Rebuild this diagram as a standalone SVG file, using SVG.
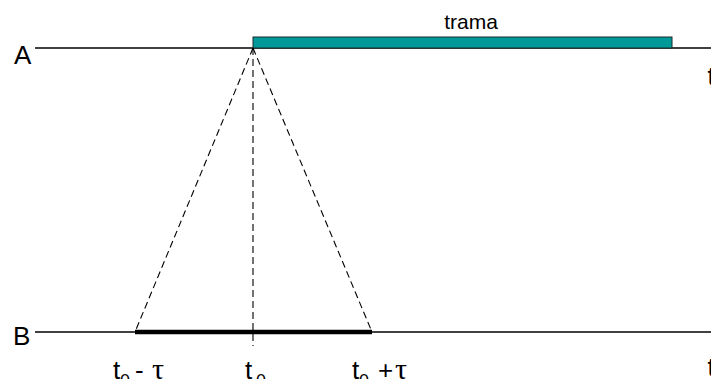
<svg xmlns="http://www.w3.org/2000/svg" width="711" height="379" viewBox="0 0 711 379">
<style>
.axis{stroke:#000;stroke-width:1.3;fill:none}
.dash{stroke:#000;stroke-width:1.1;stroke-dasharray:7,4;fill:none}
.lbl{font-family:"Liberation Sans",Arial,sans-serif;font-size:26px;fill:#000}
.sub{font-family:"Liberation Sans",Arial,sans-serif;font-size:18px;fill:#000}
.gr{font-family:"Liberation Serif","DejaVu Serif",serif;font-size:30px;fill:#000}
</style>
<rect width="711" height="379" fill="#fff"/>
<g id="axisA">
<line class="axis" x1="35" y1="48" x2="711" y2="48"/>
<text class="lbl" x="14" y="64">A</text>
<text class="lbl" x="707.5" y="85">t</text>
</g>
<g id="trama">
<rect x="253" y="37" width="419" height="11" fill="#009999" stroke="#1a2a2a" stroke-width="1"/>
<text class="lbl" x="471" y="29" text-anchor="middle" style="font-size:21px">trama</text>
</g>
<g id="axisB">
<line class="axis" x1="35" y1="332" x2="711" y2="332"/>
<text class="lbl" x="13" y="345">B</text>
<text class="lbl" x="707.5" y="376">t</text>
</g>
<g id="window">
<line x1="135" y1="332" x2="372" y2="332" stroke="#000" stroke-width="4.5"/>
</g>
<g id="connectors">
<line class="dash" x1="253" y1="48" x2="135" y2="332"/>
<line class="dash" x1="253" y1="48" x2="372" y2="332"/>
<line class="dash" x1="253" y1="48" x2="253" y2="346"/>
</g>
<g id="labels">
<text class="lbl" x="113" y="379">t</text>
<text class="sub" x="120" y="387">0</text>
<text class="lbl" x="135" y="379">-</text>
<text class="gr" x="152" y="379">τ</text>
<text class="lbl" x="245" y="379">t</text>
<text class="sub" x="256" y="387">0</text>
<text class="lbl" x="352" y="379">t</text>
<text class="sub" x="359" y="387">0</text>
<text class="lbl" x="378" y="379">+</text>
<text class="gr" x="395" y="379">τ</text>
</g>
</svg>
